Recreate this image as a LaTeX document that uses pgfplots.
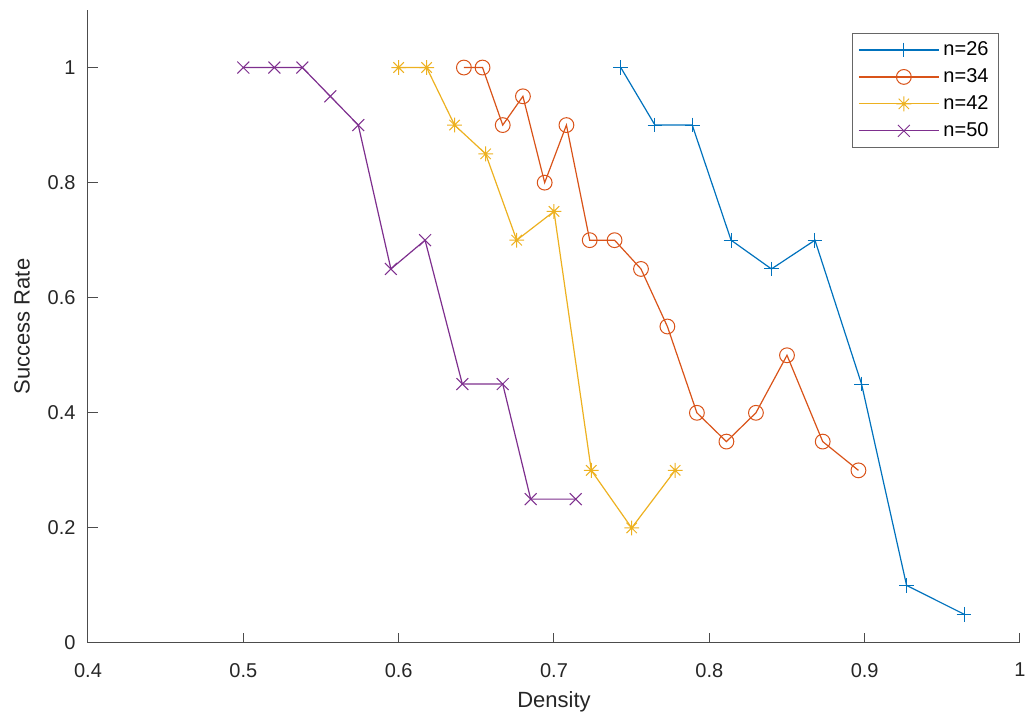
\documentclass[border=0pt]{standalone}
\usepackage{fontspec}
\setmainfont{Liberation Sans}
\usepackage{pgfplots}
\pgfplotsset{compat=1.18}
\definecolor{mblue}{RGB}{0,114,189}
\definecolor{mred}{RGB}{217,83,25}
\definecolor{myellow}{RGB}{237,177,32}
\definecolor{mpurple}{RGB}{126,47,142}
\pgfdeclareplotmark{mstar}{%
  \pgfpathmoveto{\pgfqpoint{-\pgfplotmarksize}{0pt}}\pgfpathlineto{\pgfqpoint{\pgfplotmarksize}{0pt}}%
  \pgfpathmoveto{\pgfqpoint{0pt}{-\pgfplotmarksize}}\pgfpathlineto{\pgfqpoint{0pt}{\pgfplotmarksize}}%
  \pgfpathmoveto{\pgfqpoint{-.7071\pgfplotmarksize}{-.7071\pgfplotmarksize}}\pgfpathlineto{\pgfqpoint{.7071\pgfplotmarksize}{.7071\pgfplotmarksize}}%
  \pgfpathmoveto{\pgfqpoint{-.7071\pgfplotmarksize}{.7071\pgfplotmarksize}}\pgfpathlineto{\pgfqpoint{.7071\pgfplotmarksize}{-.7071\pgfplotmarksize}}%
  \pgfusepathqstroke}
\begin{document}
\begin{tikzpicture}
\path[use as bounding box] (-44pt,-40pt) rectangle (470.5pt,321.5pt);
\begin{axis}[
  at={(0,0)}, anchor=south west, scale only axis,
  width=466pt, height=316.5pt,
  xmin=0.4, xmax=1, ymin=0, ymax=1.1,
  xtick={0.4,0.5,0.6,0.7,0.8,0.9,1},
  ytick={0,0.2,0.4,0.6,0.8,1},
  axis x line*=bottom, axis y line*=left,
  axis line style={-, black!70, line width=0.5pt},
  tick style={black!70, line width=0.5pt},
  major tick length=5pt, tick align=inside,
  /pgf/number format/assume math mode=true,
  /pgf/number format/fixed,
  tick label style={font=\fontsize{10}{12}\selectfont, text=black!85},
  xticklabel style={yshift=-6.5pt},
  yticklabel style={xshift=-2.7pt},
  xlabel={Density}, ylabel={Success Rate},
  label style={font=\fontsize{11}{13}\selectfont, text=black!85},
  xlabel style={at={(axis description cs:0.5,-0.0932)}, anchor=center},
  ylabel style={at={(axis description cs:-0.0708,0.5)}, anchor=center},
  legend style={at={(0.9775,0.9637)}, anchor=north east, draw=black!60, line width=0.5pt,
    font=\fontsize{10}{12}\selectfont, inner xsep=3pt, inner ysep=2pt, row sep=1pt},
  legend cell align=left,
  legend image code/.code={\path (0pt,0pt) -- (40pt,0pt);\draw[mark repeat=2,mark phase=2] plot coordinates {(5pt,0pt) (22.5pt,0pt) (40pt,0pt)};},
  every axis plot/.append style={line width=0.6pt, mark options={solid, line width=0.5pt, fill=none}},
]
\addplot[color=mblue, mark=+, mark size=3.7pt] coordinates {
(0.743,1) (0.765,0.9) (0.789,0.9) (0.814,0.7) (0.840,0.65) (0.868,0.7) (0.898,0.45) (0.927,0.1) (0.964,0.05)};
\addlegendentry{n=26}
\addplot[color=mred, mark=o, mark size=3.7pt] coordinates {
(0.642,1) (0.654,1) (0.667,0.9) (0.680,0.95) (0.694,0.8) (0.708,0.9) (0.723,0.7) (0.739,0.7) (0.756,0.65) (0.773,0.55) (0.792,0.4) (0.811,0.35) (0.830,0.4) (0.850,0.5) (0.873,0.35) (0.896,0.3)};
\addlegendentry{n=34}
\addplot[color=myellow, mark=mstar, mark size=3.7pt] coordinates {
(0.600,1) (0.618,1) (0.636,0.9) (0.656,0.85) (0.676,0.7) (0.700,0.75) (0.724,0.3) (0.750,0.2) (0.778,0.3)};
\addlegendentry{n=42}
\addplot[color=mpurple, mark=x, mark size=4.2pt] coordinates {
(0.500,1) (0.520,1) (0.538,1) (0.556,0.95) (0.574,0.9) (0.595,0.65) (0.617,0.7) (0.641,0.45) (0.667,0.45) (0.685,0.25) (0.714,0.25)};
\addlegendentry{n=50}
\end{axis}
\end{tikzpicture}
\end{document}
